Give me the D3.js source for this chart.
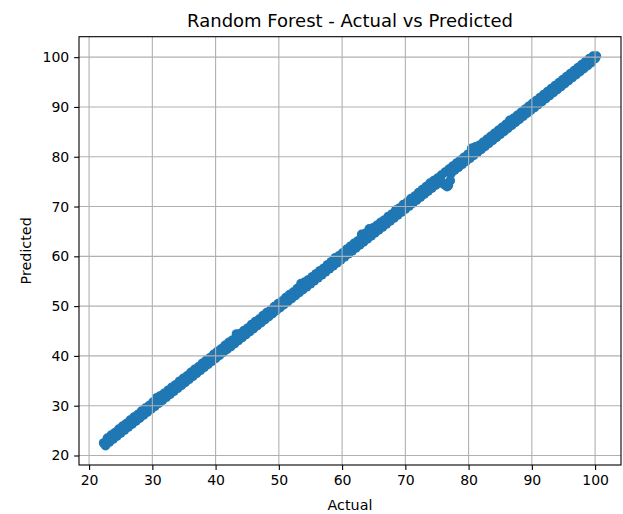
<!DOCTYPE html>
<html>
<head>
<meta charset="utf-8">
<script src="https://cdn.jsdelivr.net/npm/d3@7"></script>
<style>
  body { margin: 0; background: #fff; }
  text { font-family: "DejaVu Sans", sans-serif; fill: #000; }
</style>
</head>
<body>
<div id="chart"></div>
<script>
const chartTitle = "Random Forest - Actual vs Predicted";
const xLabel = "Actual";
const yLabel = "Predicted";
const xTicks = [20, 30, 40, 50, 60, 70, 80, 90, 100];
const yTicks = [20, 30, 40, 50, 60, 70, 80, 90, 100];

// points just above the diagonal
const actualHigh = [
  22.3, 22.9, 23.5, 24.1, 24.7, 25.3, 25.9, 26.5, 27.1, 27.7,
  28.3, 28.9, 29.5, 30.1, 30.7, 31.3, 31.9, 32.5, 33.1, 33.7,
  34.3, 34.9, 35.5, 36.1, 36.7, 37.3, 37.9, 38.5, 39.1, 39.7,
  40.3, 40.9, 41.5, 42.1, 42.7, 43.3, 43.9, 44.5, 45.1, 45.7,
  46.3, 46.9, 47.5, 48.1, 48.7, 49.3, 49.9, 50.5, 51.1, 51.7,
  52.3, 52.9, 53.5, 54.1, 54.7, 55.3, 55.9, 56.5, 57.1, 57.7,
  58.3, 58.9, 59.5, 60.1, 60.7, 61.3, 61.9, 62.5, 63.1, 63.7,
  64.3, 64.9, 65.5, 66.1, 66.7, 67.3, 67.9, 68.5, 69.1, 69.7,
  70.3, 70.9, 71.5, 72.1, 72.7, 73.3, 73.9, 74.5, 75.1, 75.7,
  76.3, 76.9, 77.5, 78.1, 78.7, 79.3, 79.9, 80.5, 81.1, 81.7,
  82.3, 82.9, 83.5, 84.1, 84.7, 85.3, 85.9, 86.5, 87.1, 87.7,
  88.3, 88.9, 89.5, 90.1, 90.7, 91.3, 91.9, 92.5, 93.1, 93.7,
  94.3, 94.9, 95.5, 96.1, 96.7, 97.3, 97.9, 98.5, 99.1, 99.7
];
const predictedHigh = [
  22.5, 23.5, 24.1, 24.6, 25.3, 25.9, 26.4, 27.1, 27.7, 28.2,
  28.9, 29.5, 30.0, 30.7, 31.6, 32.0, 32.5, 33.1, 33.7, 34.2,
  34.9, 35.5, 36.0, 36.7, 37.3, 37.8, 38.5, 39.1, 39.6, 40.3,
  40.9, 41.4, 42.1, 42.7, 43.2, 44.4, 44.5, 45.1, 45.6, 46.3,
  46.9, 47.4, 48.1, 48.7, 49.2, 49.9, 50.5, 51.0, 51.7, 52.3,
  52.8, 53.5, 54.5, 54.8, 55.3, 55.9, 56.5, 57.1, 57.6, 58.3,
  58.9, 59.7, 60.1, 60.7, 61.4, 62.0, 62.6, 63.1, 64.4, 64.6,
  65.5, 65.7, 66.2, 66.8, 67.3, 68.0, 68.5, 69.3, 69.7, 70.4,
  70.9, 71.6, 72.1, 72.8, 73.4, 74.0, 74.7, 75.2, 75.7, 76.3,
  76.9, 77.5, 78.1, 78.7, 79.3, 79.9, 80.5, 81.7, 82.0, 82.3,
  82.9, 83.5, 84.1, 84.7, 85.3, 85.9, 86.5, 87.3, 87.7, 88.3,
  88.9, 89.5, 90.1, 90.7, 91.3, 91.9, 92.5, 93.1, 93.7, 94.3,
  94.9, 95.5, 96.1, 96.7, 97.3, 97.9, 98.5, 99.1, 99.7, 100.2
];

// points just below the diagonal
const actualLow = [
  22.6, 23.2, 23.8, 24.4, 25.0, 25.6, 26.2, 26.8, 27.4, 28.0,
  28.6, 29.2, 29.8, 30.4, 31.0, 31.6, 32.2, 32.8, 33.4, 34.0,
  34.6, 35.2, 35.8, 36.4, 37.0, 37.6, 38.2, 38.8, 39.4, 40.0,
  40.6, 41.2, 41.8, 42.4, 43.0, 43.6, 44.2, 44.8, 45.4, 46.0,
  46.6, 47.2, 47.8, 48.4, 49.0, 49.6, 50.2, 50.8, 51.4, 52.0,
  52.6, 53.2, 53.8, 54.4, 55.0, 55.6, 56.2, 56.8, 57.4, 58.0,
  58.6, 59.2, 59.8, 60.4, 61.0, 61.6, 62.2, 62.8, 63.4, 64.0,
  64.6, 65.2, 65.8, 66.4, 67.0, 67.6, 68.2, 68.8, 69.4, 70.0,
  70.6, 71.2, 71.8, 72.4, 73.0, 73.6, 74.2, 74.8, 75.4, 76.0,
  76.6, 77.2, 77.8, 78.4, 79.0, 79.6, 80.2, 80.8, 81.4, 82.0,
  82.6, 83.2, 83.8, 84.4, 85.0, 85.6, 86.2, 86.8, 87.4, 88.0,
  88.6, 89.2, 89.8, 90.4, 91.0, 91.6, 92.2, 92.8, 93.4, 94.0,
  94.6, 95.2, 95.8, 96.4, 97.0, 97.6, 98.2, 98.8, 99.4, 100.0
];
const predictedLow = [
  22.0, 22.7, 23.3, 23.9, 24.5, 25.1, 25.7, 26.3, 26.9, 27.5,
  28.1, 28.7, 29.3, 29.9, 30.5, 31.1, 31.7, 32.3, 32.9, 33.5,
  34.1, 34.7, 35.3, 35.9, 36.5, 37.1, 37.7, 38.3, 38.9, 39.5,
  40.1, 40.7, 41.3, 41.9, 42.5, 43.1, 43.7, 44.3, 44.9, 45.5,
  46.1, 46.7, 47.3, 47.9, 48.5, 49.1, 49.7, 50.3, 50.9, 51.5,
  52.1, 52.7, 53.3, 53.9, 54.5, 55.1, 55.7, 56.3, 56.9, 57.5,
  58.1, 58.7, 59.3, 59.9, 60.5, 61.1, 61.7, 62.3, 62.9, 63.5,
  64.1, 64.7, 65.3, 65.9, 66.5, 67.1, 67.7, 68.3, 68.9, 69.5,
  70.1, 70.7, 71.3, 71.9, 72.5, 73.1, 73.7, 74.3, 74.9, 74.6,
  74.0, 76.6, 77.3, 77.9, 78.5, 79.1, 79.7, 80.3, 80.9, 81.5,
  82.1, 82.7, 83.3, 83.9, 84.5, 85.1, 85.7, 86.3, 86.9, 87.5,
  88.1, 88.7, 89.3, 89.9, 90.5, 91.1, 91.7, 92.3, 92.9, 93.5,
  94.1, 94.7, 95.3, 95.9, 96.5, 97.1, 97.7, 98.3, 98.9, 99.7
];

// a few stray points around the dip near 76
const actualStray = [75.7, 76.0, 76.3, 76.8, 77.1, 100.2];
const predictedStray = [74.9, 74.6, 74.3, 74.2, 75.2, 100.2];

const width = 623;
const height = 514;
const margin = { top: 36.7, right: 2, bottom: 49, left: 79 };

const svg = d3.select("#chart").append("svg")
  .attr("width", width)
  .attr("height", height);

const actual = actualHigh.concat(actualLow, actualStray);
const predicted = predictedHigh.concat(predictedLow, predictedStray);
const points = actual.map((a, i) => [a, predicted[i]]);

// matplotlib style 5% margins around the data
const xExt = d3.extent(actual);
const yExt = d3.extent(predicted);
const xPad = (xExt[1] - xExt[0]) * 0.05;
const yPad = (yExt[1] - yExt[0]) * 0.05;

const x = d3.scaleLinear()
  .domain([xExt[0] - xPad, xExt[1] + xPad])
  .range([margin.left, width - margin.right]);
const y = d3.scaleLinear()
  .domain([yExt[0] - yPad, yExt[1] + yPad])
  .range([height - margin.bottom, margin.top]);

svg.append("g")
  .selectAll("circle")
  .data(points)
  .enter()
  .append("circle")
  .attr("cx", d => x(d[0]))
  .attr("cy", d => y(d[1]))
  .attr("r", 4.85)
  .attr("fill", "#1f77b4");

// grid on top of the markers, as matplotlib does
const grid = svg.append("g").attr("stroke", "#b0b0b0").attr("stroke-width", 1.1);
grid.selectAll("line.gx").data(xTicks).enter().append("line")
  .attr("x1", d => x(d)).attr("x2", d => x(d))
  .attr("y1", margin.top).attr("y2", height - margin.bottom);
grid.selectAll("line.gy").data(yTicks).enter().append("line")
  .attr("y1", d => y(d)).attr("y2", d => y(d))
  .attr("x1", margin.left).attr("x2", width - margin.right);

const xAxis = d3.axisBottom(x).tickValues(xTicks).tickSize(4.9).tickPadding(4.9).tickSizeOuter(0);
const yAxis = d3.axisLeft(y).tickValues(yTicks).tickSize(4.9).tickPadding(4.9).tickSizeOuter(0);

const gx = svg.append("g")
  .attr("transform", `translate(0, ${height - margin.bottom})`)
  .call(xAxis);
const gy = svg.append("g")
  .attr("transform", `translate(${margin.left}, 0)`)
  .call(yAxis);

[gx, gy].forEach(g => {
  g.select(".domain").remove();
  g.selectAll(".tick line").attr("stroke", "#000").attr("stroke-width", 1.1);
  g.selectAll(".tick text")
    .attr("font-family", "DejaVu Sans, sans-serif")
    .attr("font-size", 14)
    .attr("fill", "#000");
});

svg.append("rect")
  .attr("x", margin.left)
  .attr("y", margin.top)
  .attr("width", width - margin.right - margin.left)
  .attr("height", height - margin.bottom - margin.top)
  .attr("fill", "none")
  .attr("stroke", "#000")
  .attr("stroke-width", 1.1);

const cx = (margin.left + width - margin.right) / 2;

svg.append("text")
  .attr("x", cx)
  .attr("y", 27)
  .attr("text-anchor", "middle")
  .attr("font-size", 18)
  .text(chartTitle);

svg.append("text")
  .attr("x", cx)
  .attr("y", 510)
  .attr("text-anchor", "middle")
  .attr("font-size", 14.3)
  .text(xLabel);

svg.append("text")
  .attr("transform", `translate(31, ${(margin.top + height - margin.bottom) / 2}) rotate(-90)`)
  .attr("text-anchor", "middle")
  .attr("font-size", 14.3)
  .text(yLabel);
</script>
</body>
</html>
